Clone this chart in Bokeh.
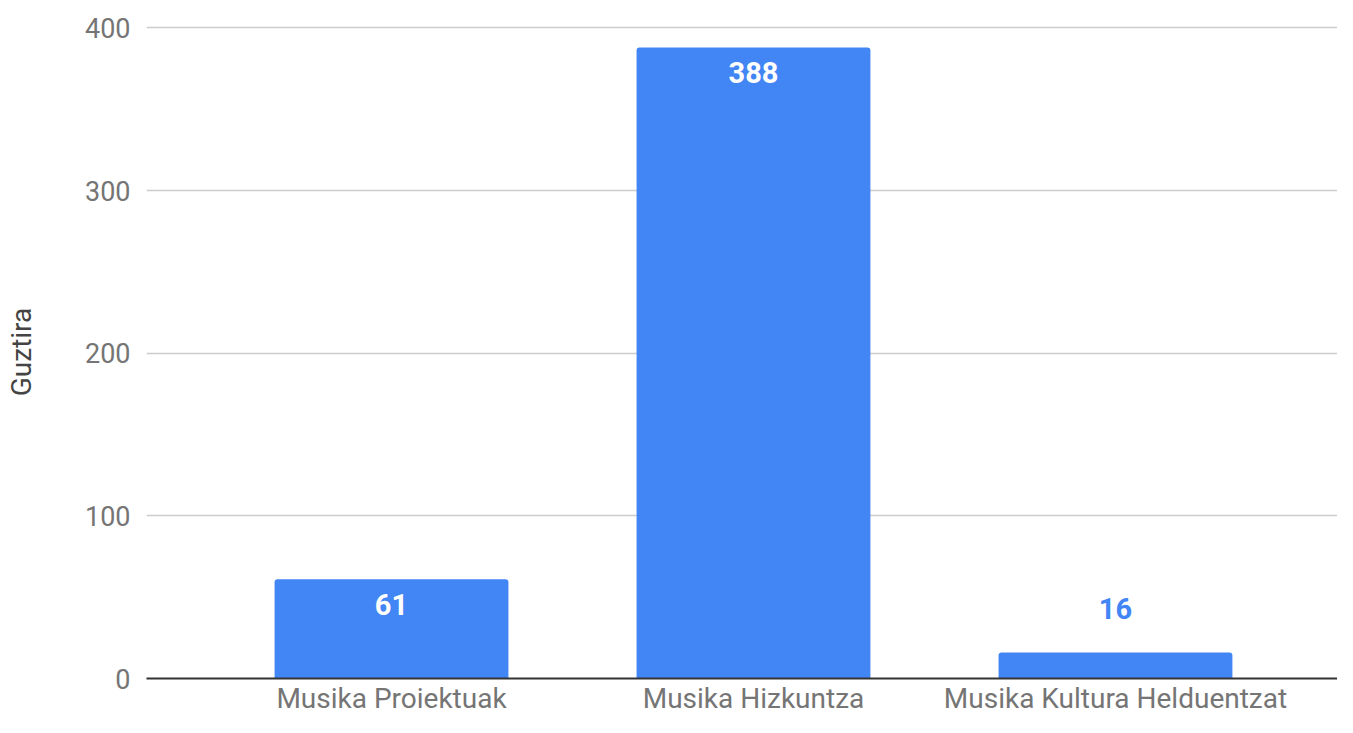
from bokeh.plotting import figure
from bokeh.models import ColumnDataSource, FixedTicker, Range1d
from bokeh.core.properties import value
from bokeh.embed import file_html
from bokeh.resources import INLINE

categories = ["Musika Proiektuak", "Musika Hizkuntza", "Musika Kultura Helduentzat"]
values = [61, 388, 16]
y_ticks = [0, 100, 200, 300, 400]
y_title = "Guztira"

BAR = "#4285F4"
FONT = "Roboto"

xs = list(range(len(categories)))
inside = [v > 400 * 0.1 for v in values]
src = ColumnDataSource(dict(
    x=xs, top=values,
    label=[str(v) for v in values],
    color=["#ffffff" if i else BAR for i in inside],
    yoff=[25 if i else -44 for i in inside],
))

p = figure(width=1337, height=717, output_backend="svg", toolbar_location=None,
           x_range=Range1d(-0.6768, 2.6133), y_range=Range1d(0, 401.5),
           min_border_left=146, min_border_right=0, min_border_top=25, min_border_bottom=5)
p.outline_line_color = None
p.background_fill_color = "white"
p.border_fill_color = "white"

p.vbar(x="x", top="top", bottom=0, width=0.646, source=src, fill_color=BAR,
       line_color=None, border_radius=(3, 3, 0, 0))
p.text(x="x", y="top", text="label", source=src, text_color="color", y_offset="yoff",
       text_align="center", text_baseline="middle", text_font=value(FONT),
       text_font_size="29px", text_font_style="bold")

# axes
p.xaxis.ticker = FixedTicker(ticks=xs)
p.xaxis.major_label_overrides = {i: c for i, c in zip(xs, categories)}
p.xaxis.major_tick_line_color = None
p.xaxis.major_tick_out = 0
p.xaxis.major_tick_in = 0
p.xaxis.minor_tick_line_color = None
p.xaxis.minor_tick_out = 0
p.xaxis.axis_line_color = "#333333"
p.xaxis.axis_line_width = 2
p.xaxis.major_label_text_font = FONT
p.xaxis.major_label_text_font_size = "28px"
p.xaxis.major_label_text_color = "#757575"
p.xaxis.major_label_standoff = 3

p.yaxis.ticker = FixedTicker(ticks=y_ticks)
p.yaxis.axis_line_color = None
p.yaxis.major_tick_line_color = None
p.yaxis.major_tick_out = 0
p.yaxis.major_tick_in = 0
p.yaxis.minor_tick_line_color = None
p.yaxis.minor_tick_out = 0
p.yaxis.major_label_text_font = FONT
p.yaxis.major_label_text_font_size = "27px"
p.yaxis.major_label_text_color = "#757575"
p.yaxis.major_label_standoff = 16
p.yaxis.axis_label = y_title
p.yaxis.axis_label_text_font = FONT
p.yaxis.axis_label_text_font_size = "28px"
p.yaxis.axis_label_text_font_style = "normal"
p.yaxis.axis_label_text_color = "#444444"
p.yaxis.axis_label_standoff = 44

p.xgrid.grid_line_color = None
p.ygrid.ticker = FixedTicker(ticks=y_ticks[1:])
p.ygrid.grid_line_color = "#cccccc"
p.ygrid.grid_line_width = 1.5

open("out.html", "w").write(file_html(p, INLINE))
